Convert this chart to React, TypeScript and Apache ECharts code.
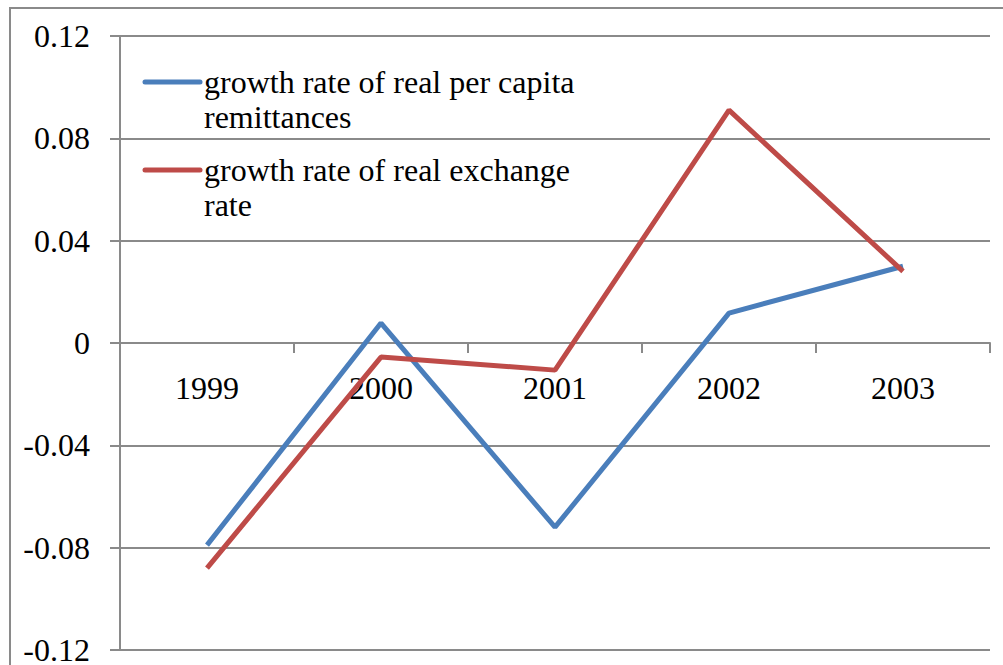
import React, { useEffect, useRef } from "react";
import * as echarts from "echarts";

const years = ["1999", "2000", "2001", "2002", "2003"];
const remittances = [-0.079, 0.0078, -0.072, 0.0117, 0.030];
const exchangeRate = [-0.088, -0.0055, -0.0106, 0.091, 0.028];
const seriesNames = [
  "growth rate of real per capita\nremittances",
  "growth rate of real exchange\nrate",
];
const colors = ["#4a7ebb", "#be4b48"];

const FONT = "'Liberation Serif', 'Times New Roman', serif";
const FS = 32;
const GRID_TOP = 36;
const GRID_BOTTOM = 15;
const CHART_H = 665;

export default function App() {
  const ref = useRef<HTMLDivElement>(null);
  useEffect(() => {
    if (!ref.current) return;
    const chart = echarts.init(ref.current, null, { renderer: "svg" });
    const gray = "#8a8a8a";
    const plotH = CHART_H - GRID_TOP - GRID_BOTTOM;
    chart.setOption({
      animation: false,
      backgroundColor: "#ffffff",
      grid: { left: 120, right: 13, top: GRID_TOP, bottom: GRID_BOTTOM, containLabel: false, outerBoundsMode: "none" },
      xAxis: {
        type: "category",
        data: years,
        boundaryGap: true,
        position: "bottom",
        offset: -plotH / 2,
        axisLine: { show: true, onZero: false, lineStyle: { color: gray, width: 2 } },
        axisTick: { show: true, length: 10, alignWithLabel: false, lineStyle: { color: gray, width: 2 } },
        axisLabel: { color: "#000", fontFamily: FONT, fontSize: FS, margin: 29 },
        splitLine: { show: false },
      },
      yAxis: {
        type: "value",
        min: -0.12,
        max: 0.12,
        interval: 0.04,
        axisLine: { show: true, lineStyle: { color: gray, width: 2 } },
        axisTick: { show: true, length: 10, lineStyle: { color: gray, width: 2 } },
        axisLabel: {
          color: "#000",
          fontFamily: FONT,
          fontSize: FS,
          margin: 30,
          formatter: (v: number) => (Math.abs(v) < 1e-9 ? "0" : v.toFixed(2)),
        },
        splitLine: { show: true, lineStyle: { color: gray, width: 2 } },
      },
      series: [
        {
          name: seriesNames[0],
          type: "line",
          data: remittances,
          symbol: "none",
          lineStyle: { color: colors[0], width: 5 },
          itemStyle: { color: colors[0] },
        },
        {
          name: seriesNames[1],
          type: "line",
          data: exchangeRate,
          symbol: "none",
          lineStyle: { color: colors[1], width: 5 },
          itemStyle: { color: colors[1] },
        },
      ],
      graphic: [
        {
          type: "rect",
          shape: { x: 10, y: 8, width: 1200, height: 1000 },
          style: { fill: "none", stroke: gray, lineWidth: 2 },
          silent: true,
          z: 100,
        },
        ...seriesNames.flatMap((name, i) => {
          const cy = 82 + i * 88;
          return [
            {
              type: "line",
              shape: { x1: 145, y1: cy, x2: 200, y2: cy },
              style: { stroke: colors[i], lineWidth: 5, lineCap: "round" },
              z: 100,
            },
            {
              type: "text",
              x: 204,
              y: cy - 17.5,
              style: {
                text: name,
                fontFamily: FONT,
                fontSize: FS,
                fill: "#000",
                lineHeight: 35,
                verticalAlign: "top",
              },
              z: 100,
            },
          ];
        }),
      ],
    });
    return () => chart.dispose();
  }, []);
  return (
    <div
      ref={ref}
      style={{ position: "fixed", left: 0, top: 0, width: 1003, height: CHART_H }}
    />
  );
}
